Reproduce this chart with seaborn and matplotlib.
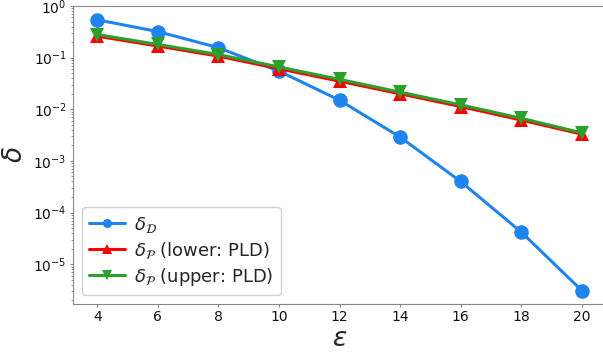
import matplotlib
matplotlib.use("Agg")
import matplotlib.pyplot as plt
import seaborn as sns
import numpy as np

eps = [4, 6, 8, 10, 12, 14, 16, 18, 20]
delta_D = [0.54, 0.32, 0.156, 0.055, 0.015, 0.0029, 4.0e-4, 4.2e-5, 3.1e-6]
delta_P_lower = [0.26, 0.168, 0.107, 0.061, 0.035, 0.020, 0.0113, 0.0062, 0.0033]
delta_P_upper = [0.28, 0.18, 0.115, 0.066, 0.038, 0.0215, 0.0122, 0.0067, 0.0035]

labels = [r"$\delta_{\mathcal{D}}$",
          r"$\delta_{\mathcal{P}}$ (lower: PLD)",
          r"$\delta_{\mathcal{P}}$ (upper: PLD)"]

sns.set_style("ticks")
plt.rcParams['font.family'] = ['DejaVu Sans']

fig = plt.figure(figsize=(6.03, 3.52), dpi=100)
ax = fig.add_axes([73/603, 48/352, 533/603, 298/352])

sns.lineplot(x=eps, y=delta_D, marker='o', color='#1f84ef', markersize=10.5,
             linewidth=2.2, markeredgewidth=0, label=labels[0], ax=ax)
sns.lineplot(x=eps, y=delta_P_lower, marker='^', color='#ff0000', markersize=10.5,
             linewidth=2.2, markeredgewidth=0, label=labels[1], ax=ax)
sns.lineplot(x=eps, y=delta_P_upper, marker='v', color='#2ca02c', markersize=10.5,
             linewidth=2.2, markeredgewidth=0, label=labels[2], ax=ax)

ax.set_yscale('log')
ax.set_ylim(10**-5.77, 1)
ax.set_xlim(3.2, 20.8)
ax.set_xticks(eps)
ax.tick_params(axis='both', labelsize=10, labelcolor='#111111', color='#888888',
               length=2.5, pad=2)
ax.tick_params(axis='y', which='minor', length=1.5, color='#888888')
for s in ax.spines.values():
    s.set_color('#888888')
ax.set_xlabel(r"$\varepsilon$", fontsize=19, labelpad=1)
ax.set_ylabel(r"$\delta$", fontsize=19, labelpad=4)
ax.legend(loc='lower left', fontsize=13, markerscale=0.62, labelspacing=0.28,
          handletextpad=0.5, handlelength=2.0, framealpha=0.9)

fig.savefig("out.png", dpi=100)
